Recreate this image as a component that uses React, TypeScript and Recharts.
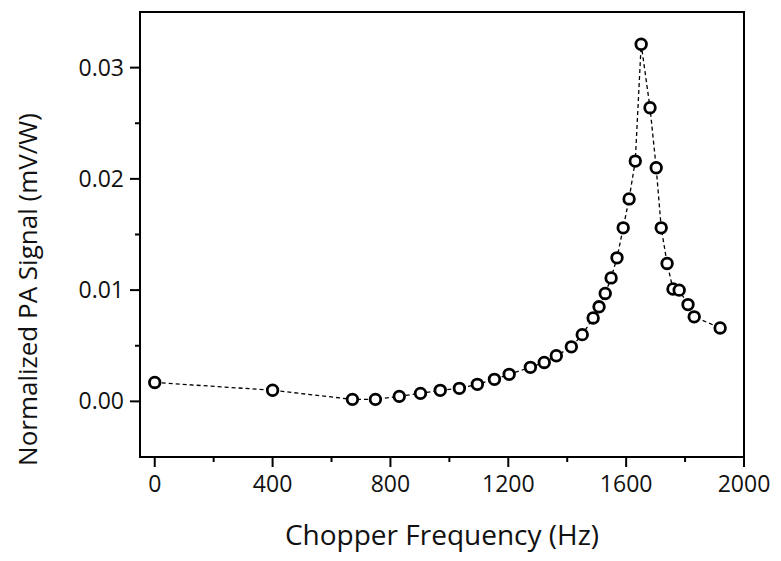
import React from "react";
import { LineChart, Line, XAxis, YAxis, ReferenceArea } from "recharts";

// chopper frequency (Hz) and normalized PA signal (mV/W)
const freqs = [
  0, 400, 671, 749, 830, 902, 969, 1034, 1095, 1153, 1203, 1275, 1322, 1363,
  1414, 1451, 1488, 1508, 1529, 1549, 1569, 1590, 1610, 1631, 1651, 1681,
  1702, 1719, 1739, 1759, 1780, 1810, 1831, 1919,
];
const signals = [
  0.0017, 0.001, 0.00018, 0.00018, 0.00045, 0.00072, 0.00099, 0.00117,
  0.00153, 0.00198, 0.00243, 0.00306, 0.0035, 0.0041, 0.0049, 0.006, 0.0075,
  0.0085, 0.0097, 0.0111, 0.0129, 0.0156, 0.0182, 0.0216, 0.0321, 0.0264,
  0.021, 0.0156, 0.0124, 0.0101, 0.01, 0.0087, 0.0076, 0.0066,
];
const xTicks = [0, 200, 400, 600, 800, 1000, 1200, 1400, 1600, 1800, 2000];
const yTicks = [0, 0.005, 0.01, 0.015, 0.02, 0.025, 0.03];

const data = freqs.map((f, i) => ({ f, s: signals[i] }));

const FONT = "'Open Sans', sans-serif";

function XTick({ x, y, payload }: any) {
  const major = payload.value % 400 === 0;
  return (
    <g>
      <line x1={x} x2={x} y1={y} y2={y + (major ? 10 : 5)} stroke="#000" strokeWidth={2} />
      {major && (
        <text x={x} y={y + 35} textAnchor="middle" fontSize={23} fontFamily={FONT} fill="#111">
          {payload.value}
        </text>
      )}
    </g>
  );
}

function YTick({ x, y, payload }: any) {
  const major = Math.round(payload.value * 1000) % 10 === 0;
  return (
    <g>
      <line x1={x} x2={x - (major ? 10 : 5)} y1={y} y2={y} stroke="#000" strokeWidth={2} />
      {major && (
        <text x={x - 16} y={y} dy="0.35em" textAnchor="end" fontSize={23} fontFamily={FONT} fill="#111">
          {payload.value.toFixed(2)}
        </text>
      )}
    </g>
  );
}

function XTitle({ viewBox }: any) {
  return (
    <text x={viewBox.x + viewBox.width / 2} y={viewBox.y + 88} textAnchor="middle" fontSize={28} fontFamily={FONT} fill="#111">
      Chopper Frequency (Hz)
    </text>
  );
}

function YTitle({ viewBox }: any) {
  const cx = viewBox.x + 29;
  const cy = viewBox.y + viewBox.height / 2 + 55;
  return (
    <text x={cx} y={cy} transform={`rotate(-90 ${cx} ${cy})`} textAnchor="middle" fontSize={26} fontFamily={FONT} fill="#111">
      Normalized PA Signal (mV/W)
    </text>
  );
}

export default function App() {
  return (
    <div style={{ width: 765, height: 545, background: "#fff" }}>
      <LineChart width={765} height={545} data={data} margin={{ top: 4, right: 29, bottom: 0, left: 0 }}>
        <XAxis
          dataKey="f"
          type="number"
          domain={[-50, 2000]}
          ticks={xTicks}
          interval={0}
          height={96}
          tickSize={0}
          tickMargin={0}
          tickLine={false}
          tick={<XTick />}
          axisLine={{ stroke: "#000", strokeWidth: 2 }}
          label={<XTitle />}
        />
        <YAxis
          type="number"
          domain={[-0.005, 0.035]}
          ticks={yTicks}
          interval={0}
          width={132}
          tickSize={0}
          tickMargin={0}
          tickLine={false}
          tick={<YTick />}
          axisLine={{ stroke: "#000", strokeWidth: 2 }}
          label={<YTitle />}
        />
        <ReferenceArea x1={-50} x2={2000} y1={-0.005} y2={0.035} fill="none" stroke="#000" strokeWidth={2} />
        <Line
          dataKey="s"
          stroke="#000"
          strokeWidth={1.3}
          strokeDasharray="4 3"
          dot={{ r: 5.3, stroke: "#000", strokeWidth: 2.8, fill: "#fff", strokeDasharray: "0" }}
          isAnimationActive={false}
        />
      </LineChart>
    </div>
  );
}
